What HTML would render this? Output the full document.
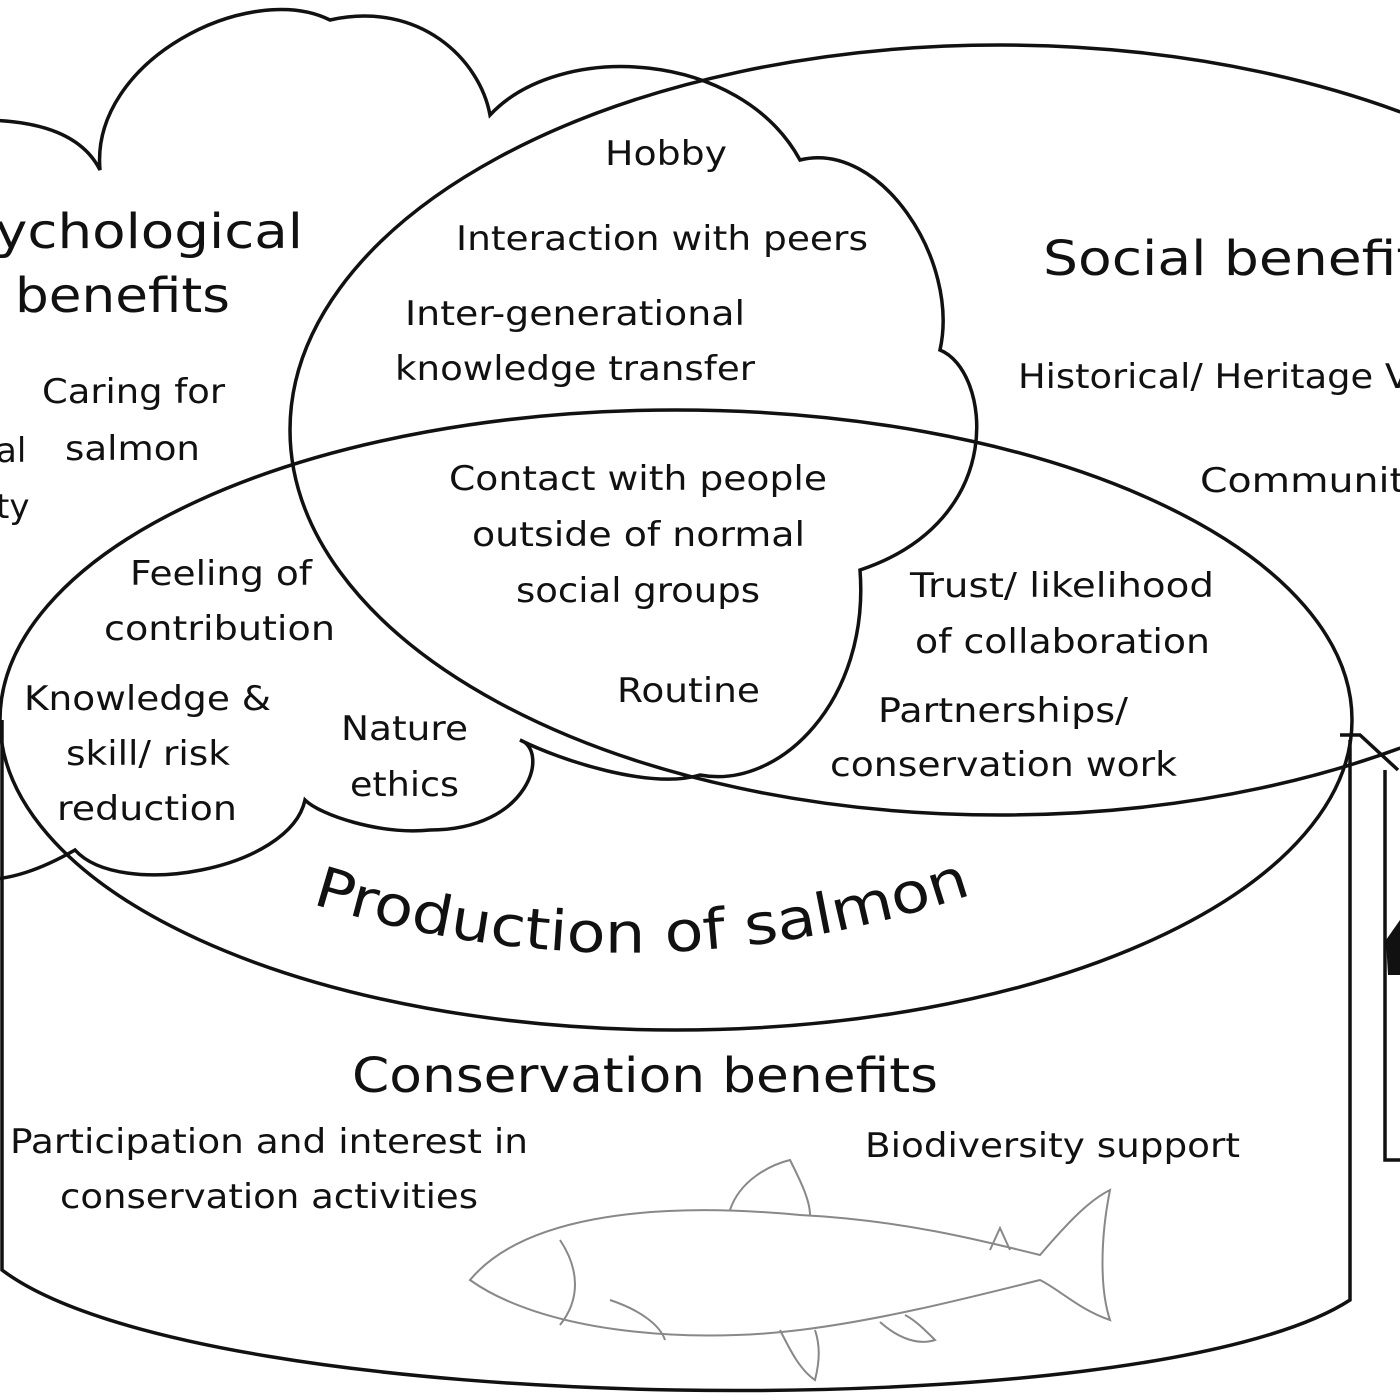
<!DOCTYPE html>
<html><head><meta charset="utf-8"><style>
html,body{margin:0;padding:0;background:#fff;}
svg{display:block}
text{font-family:"DejaVu Sans","Liberation Sans",sans-serif;fill:#111;}
</style></head><body>
<svg width="1400" height="1400" viewBox="0 0 1400 1400" xmlns="http://www.w3.org/2000/svg">
<g fill="none" stroke="#111" stroke-width="3.5">
<path d="M2,720 L2,1270 C200,1420 1150,1430 1350,1300 L1350,740"/>
<ellipse cx="676" cy="720" rx="676" ry="310"/>
<ellipse cx="1000" cy="430" rx="710" ry="385"/>
<path d="M-20,120 C30,120 80,130 100,170 C90,60 250,-20 330,20 C420,0 480,60 490,115 C560,40 740,50 800,160 C880,140 960,260 940,350 C990,370 1010,520 860,570 C870,700 780,790 700,775 C650,790 560,760 520,740 C550,750 530,830 430,830 C380,835 320,815 305,800 C290,870 120,900 75,850 C40,870 10,880 -20,880"/>
<path d="M1340,735 L1360,735 L1398,770 M1385,770 L1385,1160 L1400,1160"/>
</g>
<path d="M1386,940 L1400,920 L1400,975 L1388,975 Z" fill="#111"/>
<g fill="none" stroke="#888" stroke-width="2">
<path d="M470,1280 C520,1220 640,1200 800,1215 C900,1220 980,1240 1040,1255 C1070,1220 1090,1200 1110,1190 C1100,1240 1100,1290 1110,1320 C1080,1310 1060,1290 1040,1280 C960,1300 880,1320 800,1330 C680,1345 540,1330 470,1280 Z"/>
<path d="M560,1240 C580,1270 580,1300 560,1325"/>
<path d="M730,1210 C740,1180 770,1165 790,1160 C800,1180 810,1200 810,1215"/>
<path d="M780,1330 C790,1350 800,1370 815,1380 C820,1360 820,1345 815,1330"/>
<path d="M880,1322 C900,1340 920,1345 935,1340 C925,1330 915,1320 905,1315"/>
<path d="M610,1300 C640,1310 660,1325 665,1340"/>
<path d="M990,1250 L1000,1228 L1010,1250"/>
</g>
<g font-size="34">
<text x="-5" y="248" font-size="48" textLength="308" lengthAdjust="spacingAndGlyphs">ychological</text>
<text x="15" y="312" font-size="48" textLength="215" lengthAdjust="spacingAndGlyphs">benefits</text>
<text x="42" y="403" textLength="183" lengthAdjust="spacingAndGlyphs">Caring for</text>
<text x="65" y="460" textLength="135" lengthAdjust="spacingAndGlyphs">salmon</text>
<text x="-4" y="462">al</text>
<text x="-4" y="518">ty</text>
<text x="605" y="165" textLength="122" lengthAdjust="spacingAndGlyphs">Hobby</text>
<text x="456" y="250" textLength="412" lengthAdjust="spacingAndGlyphs">Interaction with peers</text>
<text x="405" y="325" textLength="340" lengthAdjust="spacingAndGlyphs">Inter-generational</text>
<text x="395" y="380" textLength="360" lengthAdjust="spacingAndGlyphs">knowledge transfer</text>
<text x="1043" y="275" font-size="48" textLength="375" lengthAdjust="spacingAndGlyphs">Social benefit</text>
<text x="1018" y="388" textLength="392" lengthAdjust="spacingAndGlyphs">Historical/ Heritage V</text>
<text x="1200" y="492" textLength="205" lengthAdjust="spacingAndGlyphs">Communit</text>
<text x="449" y="490" textLength="378" lengthAdjust="spacingAndGlyphs">Contact with people</text>
<text x="472" y="546" textLength="333" lengthAdjust="spacingAndGlyphs">outside of normal</text>
<text x="516" y="602" textLength="244" lengthAdjust="spacingAndGlyphs">social groups</text>
<text x="130" y="585" textLength="182" lengthAdjust="spacingAndGlyphs">Feeling of</text>
<text x="104" y="640" textLength="231" lengthAdjust="spacingAndGlyphs">contribution</text>
<text x="910" y="597" textLength="304" lengthAdjust="spacingAndGlyphs">Trust/ likelihood</text>
<text x="915" y="653" textLength="295" lengthAdjust="spacingAndGlyphs">of collaboration</text>
<text x="24" y="710" textLength="247" lengthAdjust="spacingAndGlyphs">Knowledge &amp;</text>
<text x="66" y="765" textLength="164" lengthAdjust="spacingAndGlyphs">skill/ risk</text>
<text x="57" y="820" textLength="180" lengthAdjust="spacingAndGlyphs">reduction</text>
<text x="341" y="740" textLength="127" lengthAdjust="spacingAndGlyphs">Nature</text>
<text x="350" y="796" textLength="109" lengthAdjust="spacingAndGlyphs">ethics</text>
<text x="617" y="702" textLength="143" lengthAdjust="spacingAndGlyphs">Routine</text>
<text x="878" y="722" textLength="250" lengthAdjust="spacingAndGlyphs">Partnerships/</text>
<text x="830" y="776" textLength="347" lengthAdjust="spacingAndGlyphs">conservation work</text>
<text x="352" y="1092" font-size="48" textLength="586" lengthAdjust="spacingAndGlyphs">Conservation benefits</text>
<text x="10" y="1153" textLength="518" lengthAdjust="spacingAndGlyphs">Participation and interest in</text>
<text x="60" y="1208" textLength="418" lengthAdjust="spacingAndGlyphs">conservation activities</text>
<text x="865" y="1157" textLength="375" lengthAdjust="spacingAndGlyphs">Biodiversity support</text>
</g>
<defs><path id="arc" d="M300,900 Q640,1010 985,890"/></defs>
<text font-size="56"><textPath href="#arc" startOffset="12" textLength="672" lengthAdjust="spacingAndGlyphs">Production of salmon</textPath></text>
</svg>
</body></html>
